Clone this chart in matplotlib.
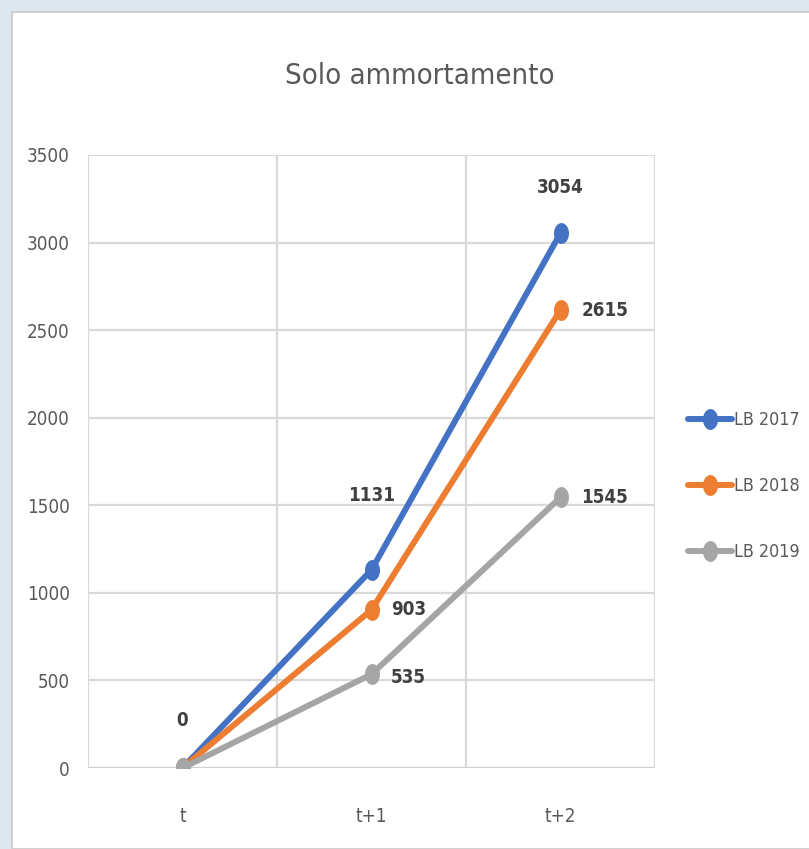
import numpy as np
import matplotlib.pyplot as plt
from matplotlib.patches import Rectangle
from matplotlib.path import Path
from matplotlib import font_manager

names = {f.name for f in font_manager.fontManager.ttflist}
narrow = 'Liberation Sans Narrow' if 'Liberation Sans Narrow' in names else 'DejaVu Sans'
plt.rcParams['font.family'] = [narrow, 'DejaVu Sans']
if narrow == 'DejaVu Sans':
    plt.rcParams['font.stretch'] = 'condensed'

# --------------------------------------------------------------
# Data
# --------------------------------------------------------------
categories = ['t', 't+1', 't+2']
series_names = ['LB 2017', 'LB 2018', 'LB 2019']
lb2017 = [0, 1131, 3054]
lb2018 = [0, 903, 2615]
lb2019 = [0, 535, 1545]
y_ticks = [0, 500, 1000, 1500, 2000, 2500, 3000, 3500]

colors = ['#4472C4', '#ED7D31', '#A5A5A5']
text_col = '#595959'

# tall ellipse marker (the original picture is stretched vertically)
theta = np.linspace(0, 2 * np.pi, 60)
ellipse = Path(np.column_stack([0.7 * np.cos(theta), np.sin(theta)]), closed=True)

fig = plt.figure(figsize=(8.09, 8.49), dpi=100)
fig.patch.set_facecolor('#dde7f0')
fig.patches.append(Rectangle((12 / 809, 0), 1, 1 - 12 / 849, transform=fig.transFigure,
                             facecolor='white', edgecolor='#d0d0d0', linewidth=1.5, zorder=-5))

ax = fig.add_axes([88 / 809, 1 - 768 / 849, 567 / 809, 613 / 849])
ax.set_facecolor('white')
x = np.arange(len(categories))

for vals, name, col in zip([lb2017, lb2018, lb2019], series_names, colors):
    ax.plot(x, vals, color=col, lw=4.3, marker=ellipse, markersize=14,
            label=name, solid_capstyle='round', zorder=3)

# data labels
lab_style = dict(fontsize=13.5, fontweight='bold', color='#404040')
ax.annotate('0', (0, 0), xytext=(0, 27), textcoords='offset points', ha='center', va='bottom', **lab_style)
ax.annotate(str(lb2017[1]), (1, lb2017[1]), xytext=(0, 47), textcoords='offset points', ha='center', va='bottom', **lab_style)
ax.annotate(str(lb2017[2]), (2, lb2017[2]), xytext=(0, 26), textcoords='offset points', ha='center', va='bottom', **lab_style)
ax.annotate(str(lb2018[1]), (1, lb2018[1]), xytext=(14, 0), textcoords='offset points', ha='left', va='center', **lab_style)
ax.annotate(str(lb2019[1]), (1, lb2019[1]), xytext=(14, -2), textcoords='offset points', ha='left', va='center', **lab_style)
ax.annotate(str(lb2018[2]), (2, lb2018[2]), xytext=(15, 0), textcoords='offset points', ha='left', va='center', **lab_style)
ax.annotate(str(lb2019[2]), (2, lb2019[2]), xytext=(15, 0), textcoords='offset points', ha='left', va='center', **lab_style)

ax.set_xlim(-0.5, 2.5)
ax.set_ylim(0, 3500)
ax.set_yticks(y_ticks)
ax.set_xticks(x)
ax.set_xticklabels(categories)
ax.set_xticks([-0.5, 0.5, 1.5, 2.5], minor=True)
ax.tick_params(axis='both', which='both', length=0, labelsize=13.5, labelcolor=text_col)
ax.tick_params(axis='y', pad=13)
ax.tick_params(axis='x', pad=28)
ax.grid(True, which='major', axis='y', color='#d9d9d9', lw=1.6)
ax.grid(True, which='minor', axis='x', color='#d9d9d9', lw=1.6)
for s in ax.spines.values():
    s.set_visible(False)
ax.axhline(0, color='#cfcfcf', lw=2.2, zorder=2)

fig.text(420 / 809, 1 - 76 / 849, 'Solo ammortamento', fontsize=21, color=text_col,
         ha='center', va='center')

leg = ax.legend(loc='center left', bbox_to_anchor=(1.03, 0.46), frameon=False,
                fontsize=12.8, labelcolor=text_col, handlelength=2.5, labelspacing=2.7,
                handletextpad=0.1)

fig.savefig('out.png', dpi=100)
